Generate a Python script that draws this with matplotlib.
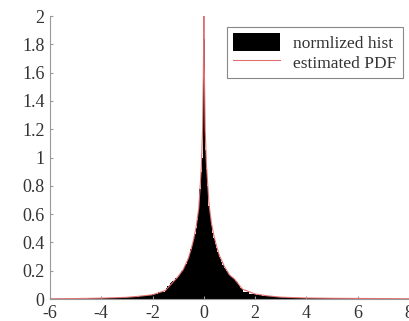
import numpy as np
import matplotlib
matplotlib.use("Agg")
import matplotlib.pyplot as plt
from matplotlib.ticker import FormatStrFormatter

# Histograma normalizado: zona central con bins de 0.05, colas con bins de 0.25
center_abs_x = [0.00, 0.05, 0.10, 0.15, 0.20, 0.25, 0.30, 0.35, 0.40, 0.45,
                0.50, 0.55, 0.60, 0.65, 0.70, 0.75, 0.80, 0.85, 0.90, 0.95,
                1.00, 1.05, 1.10, 1.15, 1.20, 1.25, 1.30, 1.35, 1.40, 1.45, 1.50]
center_right = [1.84, 1.05, 0.92, 0.80, 0.66, 0.58, 0.52, 0.47, 0.43, 0.39,
                0.36, 0.33, 0.30, 0.28, 0.26, 0.24, 0.22, 0.21, 0.195, 0.18,
                0.17, 0.16, 0.155, 0.145, 0.14, 0.13, 0.12, 0.105, 0.095, 0.08, 0.07]
center_left = [1.84, 1.00, 0.90, 0.78, 0.63, 0.56, 0.50, 0.46, 0.42, 0.38,
               0.35, 0.32, 0.29, 0.27, 0.25, 0.23, 0.21, 0.20, 0.185, 0.17,
               0.16, 0.15, 0.145, 0.135, 0.13, 0.12, 0.11, 0.10, 0.09, 0.075, 0.065]

tail_left_x = [-5.9, -5.65, -5.4, -5.15, -4.9, -4.65, -4.4, -4.15, -3.9,
               -3.65, -3.4, -3.15, -2.9, -2.65, -2.4, -2.15, -1.9, -1.65]
tail_left = [0.002, 0.002, 0.002, 0.003, 0.003, 0.003, 0.004, 0.005, 0.006,
             0.007, 0.009, 0.011, 0.014, 0.017, 0.021, 0.027, 0.035, 0.048]
tail_right_x = [1.65, 1.9, 2.15, 2.4, 2.65, 2.9, 3.15, 3.4, 3.65, 3.9, 4.15,
                4.4, 4.65, 4.9, 5.15, 5.4, 5.65, 5.9, 6.15, 6.4, 6.65, 6.9]
tail_right = [0.05, 0.036, 0.028, 0.022, 0.018, 0.015, 0.012, 0.010, 0.009,
              0.008, 0.007, 0.006, 0.006, 0.005, 0.005, 0.004, 0.004, 0.004,
              0.003, 0.003, 0.003, 0.003]

# PDF estimada (curva roja)
pdf_x = [-6, -5, -4, -3, -2.5, -2, -1.5, -1.2, -1, -0.8, -0.6, -0.5, -0.4,
         -0.3, -0.2, -0.15, -0.1, -0.05, -0.02, 0,
         0.02, 0.05, 0.1, 0.15, 0.2, 0.3, 0.4, 0.5, 0.6, 0.8, 1, 1.2, 1.5,
         2, 2.5, 3, 4, 5, 6, 7, 8]
pdf_y = [0.002, 0.003, 0.006, 0.012, 0.02, 0.03, 0.06, 0.12, 0.16, 0.21,
         0.29, 0.35, 0.42, 0.51, 0.64, 0.78, 0.93, 1.2, 1.6, 2.0,
         1.6, 1.2, 0.95, 0.81, 0.67, 0.53, 0.44, 0.37, 0.31, 0.23, 0.17, 0.14,
         0.07, 0.035, 0.022, 0.013, 0.007, 0.005, 0.004, 0.003, 0.002]

plt.rcParams["font.family"] = ["Liberation Serif", "DejaVu Serif"]
plt.rcParams["axes.unicode_minus"] = False

fig = plt.figure(figsize=(4.1, 3.21), dpi=100)
ax = fig.add_axes([0.122, 0.0685, 0.8756, 0.8816])

cx = [-v for v in center_abs_x[:0:-1]] + center_abs_x
ch = center_left[:0:-1] + center_right
barras = ax.bar(cx, ch, width=0.05, color="black", linewidth=0)
ax.bar(tail_left_x + tail_right_x, tail_left + tail_right, width=0.25,
       color="black", linewidth=0)

linea, = ax.plot(pdf_x, pdf_y, color="#e07070", linewidth=0.8)

ax.set_xlim(-6, 8)
ax.set_ylim(0, 2)
ax.set_xticks([-6, -4, -2, 0, 2, 4, 6, 8])
ax.set_yticks(np.arange(0, 2.01, 0.2))
ax.yaxis.set_major_formatter(FormatStrFormatter("%g"))

for lado in ["top", "right"]:
    ax.spines[lado].set_visible(False)
for lado in ["left", "bottom"]:
    ax.spines[lado].set_color("#999999")
ax.tick_params(direction="in", length=2.5, color="#999999",
               labelsize=13, labelcolor="#333333", pad=4)

leg = ax.legend([barras, linea], ["normlized hist", "estimated PDF"],
                loc="upper right", bbox_to_anchor=(0.983, 0.961),
                borderaxespad=0,
                fontsize=12.5, fancybox=False, framealpha=1,
                edgecolor="#888888", handlelength=2.7, handleheight=1.2,
                borderpad=0.35, labelspacing=0.05, handletextpad=0.8)
leg.get_frame().set_linewidth(0.8)
for t in leg.get_texts():
    t.set_color("#333333")

fig.savefig("out.png", dpi=100)
